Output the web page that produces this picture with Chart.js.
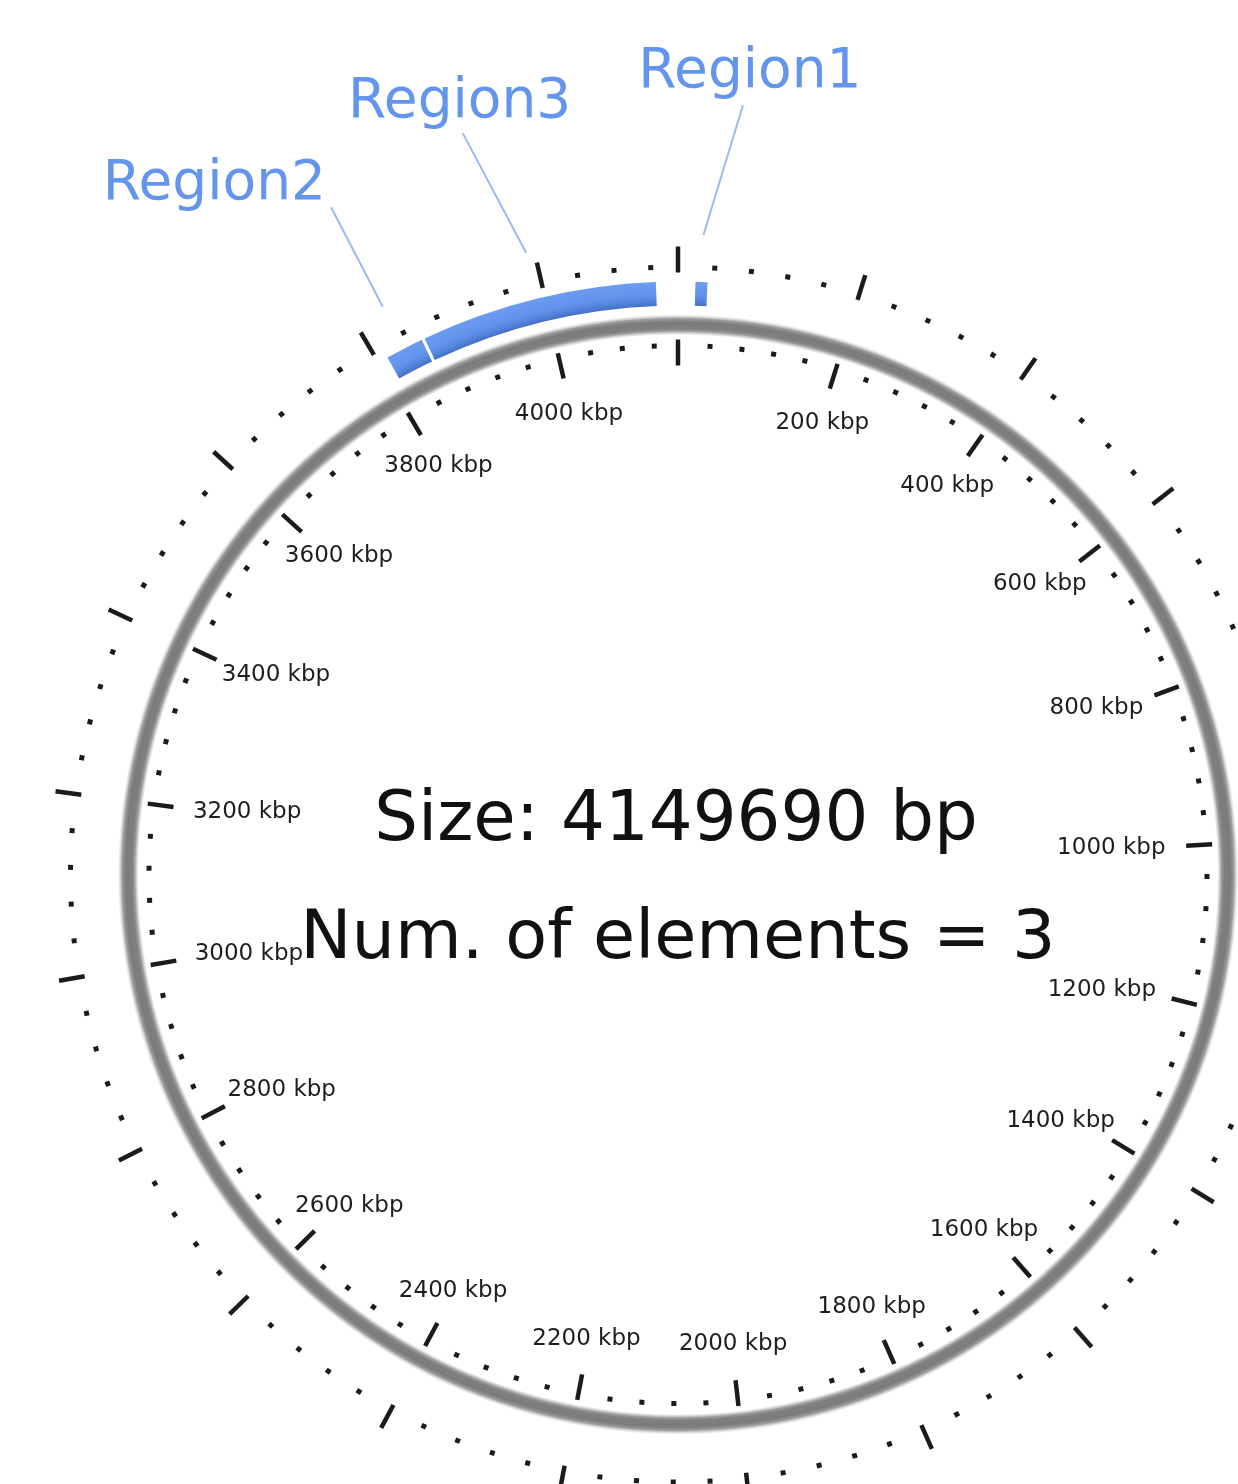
<!DOCTYPE html>
<html>
<head>
<meta charset="utf-8">
<title>Circular plot</title>
<script src="https://cdn.jsdelivr.net/npm/chart.js@4.4.1/dist/chart.umd.min.js"></script>
<style>
  html, body { margin:0; padding:0; background:#fff; overflow:hidden; }
  canvas { display:block; }
</style>
</head>
<body>
<canvas id="chart" width="1238" height="1484"></canvas>
<script>
// ---- data ----
const GENOME_BP = 4149690;

const regionNames   = ["Region1", "Region2", "Region3"];
const regionStartBp = [19500, 3811500, 3858000];
const regionEndBp   = [33000, 3854500, 4125000];

const majorTicksKbp = [0, 200, 400, 600, 800, 1000, 1200, 1400, 1600, 1800, 2000,
                       2200, 2400, 2600, 2800, 3000, 3200, 3400, 3600, 3800, 4000];
const majorTickLabels = ["", "200 kbp", "400 kbp", "600 kbp", "800 kbp", "1000 kbp",
                         "1200 kbp", "1400 kbp", "1600 kbp", "1800 kbp", "2000 kbp",
                         "2200 kbp", "2400 kbp", "2600 kbp", "2800 kbp", "3000 kbp",
                         "3200 kbp", "3400 kbp", "3600 kbp", "3800 kbp", "4000 kbp"];
const minorStepKbp = 40;

// ---- layout (pixels, not data) ----
const RING = { outer: 593, regionInner: 569, grayOuter: 560, grayInner: 540 };
const TICKS = {
  innerBase: 535, innerMajor: 26, innerDot: 529,
  outerBase: 602, outerMajor: 26, outerDot: 607.5,
  dot: 5, width: 4.5, color: "#1b1b1b"
};
const LABEL_RX = 488, LABEL_RY = 483, LABEL_H = 20;
// leader line end: radius, angle nudge (deg), text offset, alignment
const LEADERS = [
  { r: 772, nudge: 2.55,  dx: 7,  dy: -18, align: "center" },
  { r: 752, nudge: 0,     dx: -5, dy: -8,  align: "right" },
  { r: 772, nudge: -2.47, dx: -3, dy: -16, align: "center" }
];
const BLUE = "#6495ed";

function $(id){ return document.getElementById(id); }

function buildSegments(){
  const order = regionStartBp.map((s, i) => i).sort((a, b) => regionStartBp[a] - regionStartBp[b]);
  const seg = [], isRegion = [], names = [];
  let pos = 0;
  order.forEach(i => {
    seg.push(regionStartBp[i] - pos); isRegion.push(false); names.push("");
    seg.push(regionEndBp[i] - regionStartBp[i]); isRegion.push(true); names.push(regionNames[i]);
    pos = regionEndBp[i];
  });
  seg.push(GENOME_BP - pos); isRegion.push(false); names.push("");
  return { seg, isRegion, names };
}

function radialFill(stops, fallback){
  return (c) => {
    const ch = c.chart;
    const ctrl = ch.getDatasetMeta(c.datasetIndex).controller;
    const a = ch.chartArea;
    if(!a || !ctrl || !ctrl.outerRadius) return fallback;
    const x = (a.left + a.right) / 2, y = (a.top + a.bottom) / 2;
    const g = ch.ctx.createRadialGradient(x, y, ctrl.innerRadius, x, y, ctrl.outerRadius);
    stops.forEach(s => g.addColorStop(s[0], s[1]));
    return g;
  };
}

const regionGrad = radialFill([[0, "#4470c4"], [0.2, "#5383da"], [0.45, "#6193ea"], [1, "#6c9cf1"]], BLUE);
const grayGrad = radialFill([
  [0, "rgba(225,225,225,0.5)"], [0.16, "#a2a2a2"], [0.3, "#7f7f7f"],
  [0.62, "#7b7b7b"], [0.8, "#9e9e9e"], [1, "rgba(235,235,235,0.3)"]
], "#808080");

// bp -> point on the circle, clockwise from 12 o'clock
function polar(cx, cy, r, bp){
  const t = bp / GENOME_BP * Math.PI * 2;
  return { x: cx + r * Math.sin(t), y: cy - r * Math.cos(t), t };
}

const circularDecor = {
  id: "circularDecor",
  afterDraw(chart){
    const arc = chart.getDatasetMeta(2).data[0];
    if(!arc) return;
    const cx = arc.x, cy = arc.y;
    const ctx = chart.ctx;
    ctx.save();

    // ticks, inner and outer ring
    ctx.fillStyle = TICKS.color;
    ctx.strokeStyle = TICKS.color;
    ctx.lineWidth = TICKS.width;
    for(let k = 0; k * 1000 < GENOME_BP; k += minorStepKbp){
      const bp = k * 1000;
      if(majorTicksKbp.includes(k)){
        [[TICKS.innerBase, TICKS.innerBase - TICKS.innerMajor],
         [TICKS.outerBase, TICKS.outerBase + TICKS.outerMajor]].forEach(([r1, r2]) => {
          const p1 = polar(cx, cy, r1, bp), p2 = polar(cx, cy, r2, bp);
          ctx.beginPath(); ctx.moveTo(p1.x, p1.y); ctx.lineTo(p2.x, p2.y); ctx.stroke();
        });
      } else {
        [TICKS.innerDot, TICKS.outerDot].forEach(r => {
          const p = polar(cx, cy, r, bp);
          ctx.save();
          ctx.translate(p.x, p.y); ctx.rotate(p.t);
          ctx.fillRect(-TICKS.dot / 2, -TICKS.dot / 2, TICKS.dot, TICKS.dot);
          ctx.restore();
        });
      }
    }

    // tick labels
    ctx.font = "23px 'DejaVu Sans'";
    ctx.fillStyle = "#1e1e1e";
    ctx.textAlign = "center";
    ctx.textBaseline = "middle";
    majorTicksKbp.forEach((k, i) => {
      const txt = majorTickLabels[i];
      if(!txt) return;
      const t = k * 1000 / GENOME_BP * Math.PI * 2;
      const s = Math.sin(t), c = Math.cos(t);
      const w = ctx.measureText(txt).width;
      const x = cx + LABEL_RX * s - (w / 2) * s * s * s;
      const y = cy - LABEL_RY * c + (LABEL_H / 2) * c;
      ctx.fillText(txt, x, y);
    });

    // region labels with leader lines
    ctx.font = "55px 'DejaVu Sans'";
    ctx.textBaseline = "alphabetic";
    regionNames.forEach((name, i) => {
      const L = LEADERS[i];
      const mid = (regionStartBp[i] + regionEndBp[i]) / 2;
      const p1 = polar(cx, cy, 640, mid);
      const p2 = polar(cx, cy, L.r, mid + L.nudge / 360 * GENOME_BP);
      ctx.strokeStyle = "rgba(100,149,237,0.65)";
      ctx.lineWidth = 2;
      ctx.beginPath(); ctx.moveTo(p1.x, p1.y); ctx.lineTo(p2.x, p2.y); ctx.stroke();
      ctx.fillStyle = BLUE;
      ctx.textAlign = L.align;
      ctx.fillText(name, p2.x + L.dx, p2.y + L.dy);
    });

    // centre text
    ctx.fillStyle = "#111";
    ctx.textAlign = "center";
    ctx.font = "69px 'DejaVu Sans'";
    ctx.fillText(`Size: ${GENOME_BP} bp`, cx - 2, cy - 34.5);
    ctx.font = "68.5px 'DejaVu Sans'";
    ctx.fillText(`Num. of elements = ${regionNames.length}`, cx, cy + 83.5);

    ctx.restore();
  }
};

function render(){
  const { seg, isRegion, names } = buildSegments();
  new Chart($("chart").getContext("2d"), {
    type: "doughnut",
    data: {
      labels: names,
      datasets: [
        { data: seg, backgroundColor: (c) => isRegion[c.dataIndex] ? regionGrad(c) : "rgba(0,0,0,0)",
          borderWidth: 0, hoverOffset: 0, weight: RING.outer - RING.regionInner, clip: false },
        { data: [GENOME_BP], backgroundColor: "rgba(0,0,0,0)",
          borderWidth: 0, hoverOffset: 0, weight: RING.regionInner - RING.grayOuter, clip: false },
        { data: [GENOME_BP], backgroundColor: grayGrad,
          borderWidth: 0, hoverOffset: 0, weight: RING.grayOuter - RING.grayInner, clip: false }
      ]
    },
    options: {
      responsive: false,
      animation: false,
      events: [],
      radius: RING.outer,
      cutout: (RING.grayInner / RING.outer * 100) + "%",
      rotation: 0,
      circumference: 360,
      layout: { padding: { left: 118, right: 0, top: 265, bottom: 0 } },
      plugins: { legend: { display: false }, tooltip: { enabled: false } }
    },
    plugins: [circularDecor]
  });
}

window.addEventListener("DOMContentLoaded", render);
</script>
</body>
</html>
